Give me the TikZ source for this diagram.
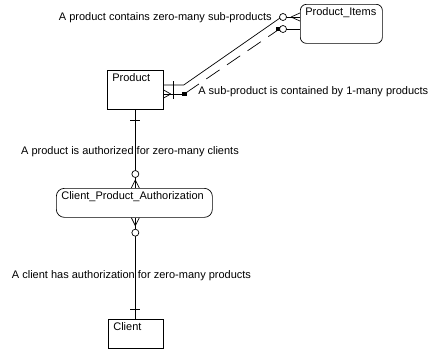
\documentclass[tikz,border=0pt]{standalone}
\usepackage{fontspec}
\setmainfont{Liberation Sans}
\usetikzlibrary{calc}
\tikzset{
  entity/.style={draw,anchor=north west,align=left,inner xsep=5pt,inner ysep=3pt,
    text height=8.5pt,font=\fontsize{11}{13}\selectfont},
  rel/.style={line width=0.7pt},
  phrase/.style={font=\fontsize{11}{13}\selectfont,inner sep=1pt}
}
\begin{document}
\begin{tikzpicture}[x=1pt,y=-1pt,line width=0.7pt,
  ring/.style={draw,fill=white},
  blob/.style={fill=black},
  sub/.style={rel,dash pattern=on 16pt off 9pt}
]
  \useasboundingbox (0,0) rectangle (439,354);
  \node[entity,text width=46pt,text depth=24.5pt] (product) at (107,70) {Product};
  \node[entity,rounded corners=6pt,text width=72pt,text depth=24.5pt] (items) at (300,4) {Product\_Items};
  \node[entity,rounded corners=8pt,text width=146pt,text depth=14.5pt] (cpa) at (56,188) {Client\_Product\_Authorization};
  \node[entity,text width=45pt,text depth=14.5pt] (client) at (108,319) {Client};
  \node[phrase,anchor=east] (containslbl) at (273,18) {A product contains zero-many sub-products};
  \node[phrase,anchor=west] (containedlbl) at (197,92) {A sub-product is contained by 1-many products};
  \node[phrase] (authlbl) at (130,152) {A product is authorized for zero-many clients};
  \node[phrase] (hasauthlbl) at (131.5,276) {A client has authorization for zero-many products};
  % product -- authorization
  \draw[rel] (product.south) -- (product.south |- cpa.north);
  \draw[rel] ($(product.south)+(-5,11)$) -- ++(10,0);
  \draw[rel] ($(product.south |- cpa.north)+(0,-8)$) -- ++(-4,8)
    ($(product.south |- cpa.north)+(0,-8)$) -- ++(4,8);
  \draw[ring] ($(product.south |- cpa.north)+(0,-14)$) circle (3.5);
  % client -- authorization
  \draw[rel] (client.north -| product.south) -- (product.south |- cpa.south);
  \draw[rel] ($(client.north -| product.south)+(-5,-10)$) -- ++(10,0);
  \draw[rel] ($(product.south |- cpa.south)+(0,8)$) -- ++(-4,-8)
    ($(product.south |- cpa.south)+(0,8)$) -- ++(4,-8);
  \draw[ring] ($(product.south |- cpa.south)+(0,15)$) circle (3.5);
  % product contains product items
  \draw[rel] ($(product.north east)+(0,15)$) -- ++(20,0) -- ($(items.north west)+(-20,14)$);
  \draw[rel] ($(product.north east)+(10,11)$) -- ++(0,8);
  \draw[rel] ($(items.north west)+(-14,13)$) -- ($(items.north west)+(0,13)$);
  \draw[rel] ($(items.north west)+(-9,13)$) -- ($(items.north west)+(0,9)$)
    ($(items.north west)+(-9,13)$) -- ($(items.north west)+(0,17)$);
  \draw[ring] ($(items.north west)+(-17,13)$) circle (3.5);
  % product items contained by product
  \draw[rel] ($(product.north east)+(0,24)$) -- ++(18,0);
  \draw[rel] ($(product.north east)+(7,24)$) -- ++(-7,-4)
    ($(product.north east)+(7,24)$) -- ++(-7,4);
  \draw[rel] ($(product.north east)+(10,19)$) -- ++(0,10);
  \fill[blob] ($(product.north east)+(18,22)$) rectangle ++(5,4);
  \draw[sub] ($(product.north east)+(22,23)$) -- ($(items.north west)+(-22,26)$);
  \fill[blob] ($(items.north west)+(-24,23)$) rectangle ++(4,4);
  \draw[rel] ($(items.north west)+(-14,25)$) -- ($(items.north west)+(0,25)$);
  \draw[ring] ($(items.north west)+(-17,25)$) circle (3.5);
\end{tikzpicture}
\end{document}
